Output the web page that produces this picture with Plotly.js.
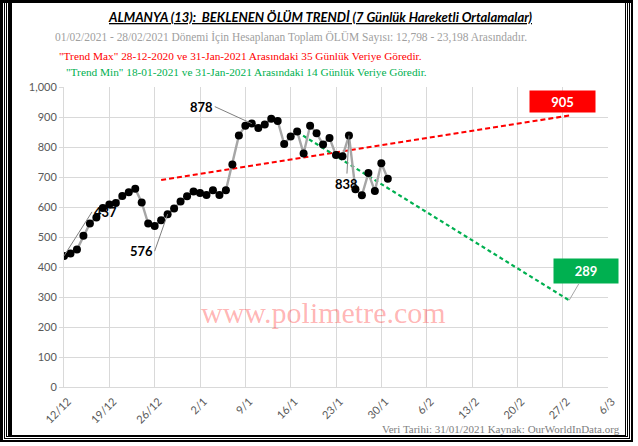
<!DOCTYPE html>
<html>
<head>
<meta charset="utf-8">
<script src="https://cdn.plot.ly/plotly-3.0.1.min.js"></script>
<style>
  html, body { margin: 0; padding: 0; background: #fff; }
  #wrap { position: relative; width: 638px; height: 446px; overflow: hidden; }
  #chart { position: absolute; left: 0; top: 0; width: 638px; height: 446px; }
  .frame { position: absolute; pointer-events: none; box-sizing: border-box; border-style: solid; border-color: #000; }
</style>
</head>
<body>
<div id="wrap">
  <div id="chart"></div>
  <div class="frame" style="left:0;top:-20px;width:633px;height:462px;border-width:0 2px 2px 3px;"></div>
  <div class="frame" style="left:4px;top:-20px;width:626px;height:459px;border-width:0 1px 1px 1px;"></div>
  <div class="frame" style="left:6px;top:-20px;width:622px;height:457px;border-width:0 1px 1px 1px;"></div>
  <div class="frame" style="left:8px;top:-20px;width:618px;height:456px;border-width:0 1px 1px 4px;"></div>
  <div class="frame" style="left:0;top:0;width:633px;height:3px;border-width:3px 0 0 0;"></div>
</div>
<script>
// ---- data ----
const dates = [
  "2020-12-12","2020-12-13","2020-12-14","2020-12-15","2020-12-16","2020-12-17","2020-12-18",
  "2020-12-19","2020-12-20","2020-12-21","2020-12-22","2020-12-23","2020-12-24","2020-12-25",
  "2020-12-26","2020-12-27","2020-12-28","2020-12-29","2020-12-30","2020-12-31","2021-01-01",
  "2021-01-02","2021-01-03","2021-01-04","2021-01-05","2021-01-06","2021-01-07","2021-01-08",
  "2021-01-09","2021-01-10","2021-01-11","2021-01-12","2021-01-13","2021-01-14","2021-01-15",
  "2021-01-16","2021-01-17","2021-01-18","2021-01-19","2021-01-20","2021-01-21","2021-01-22",
  "2021-01-23","2021-01-24","2021-01-25","2021-01-26","2021-01-27","2021-01-28","2021-01-29",
  "2021-01-30","2021-01-31"
];
const deaths = [
  437,445,458,504,545,565,597,
  608,613,637,649,661,615,545,
  537,556,576,595,618,636,652,
  647,640,656,640,656,742,838,
  871,878,863,875,894,887,810,
  835,852,778,871,846,808,830,
  773,769,838,659,639,713,653,
  746,694
];
const trendMaxDates = ["2020-12-27","2021-02-28"];
const trendMaxValues = [690, 905];
const trendMinDates = ["2021-01-17","2021-02-28"];
const trendMinValues = [850, 289];
const tickDates = ["2020-12-12","2020-12-19","2020-12-26","2021-01-02","2021-01-09","2021-01-16",
  "2021-01-23","2021-01-30","2021-02-06","2021-02-13","2021-02-20","2021-02-27","2021-03-06"];
const tickLabels = ["12/12","19/12","26/12","2/1","9/1","16/1","23/1","30/1","6/2","13/2","20/2","27/2","6/3"];
const yTicks = [0,100,200,300,400,500,600,700,800,900,1000];
const labelPoints = [
  {date: "2020-12-12", value: 437},
  {date: "2020-12-28", value: 576},
  {date: "2021-01-10", value: 878},
  {date: "2021-01-25", value: 838}
];
const titleText = "ALMANYA (13):  BEKLENEN ÖLÜM TRENDİ (7 Günlük Hareketli Ortalamalar)";
const subGray = "01/02/2021 - 28/02/2021 Dönemi İçin Hesaplanan Toplam ÖLÜM Sayısı: 12,798 - 23,198 Arasındadır.";
const subRed = "\"Trend Max\" 28-12-2020 ve 31-Jan-2021 Arasındaki 35 Günlük Veriye Göredir.";
const subGreen = "\"Trend Min\" 18-01-2021 ve 31-Jan-2021 Arasındaki 14 Günlük Veriye Göredir.";
const footer = "Veri Tarihi: 31/01/2021 Kaynak: OurWorldInData.org";
const watermark = "www.polimetre.com";

// ---- traces ----
const traces = [
  {
    x: trendMaxDates, y: trendMaxValues, type: "scatter", mode: "lines",
    line: {color: "#ff0000", width: 2.2, dash: "5px,3px"}, hoverinfo: "skip"
  },
  {
    x: trendMinDates, y: trendMinValues, type: "scatter", mode: "lines",
    line: {color: "#00b050", width: 2.2, dash: "4px,3px"}, hoverinfo: "skip"
  },
  {
    x: dates, y: deaths, type: "scatter", mode: "lines+markers",
    line: {color: "#a6a6a6", width: 2.4},
    marker: {color: "#000000", size: 8}
  }
];

const numFont = {family: "Lato, 'Open Sans', sans-serif", size: 13, color: "#000"};
const serif = "'Liberation Serif', 'Times New Roman', serif";
const annotations = [
  {x: labelPoints[0].date, y: labelPoints[0].value, text: "<b>" + labelPoints[0].value + "</b>",
   showarrow: true, arrowhead: 0, arrowwidth: 1, arrowcolor: "#7f7f7f", ax: 28, ay: -44, xanchor: "left", font: numFont},
  {x: labelPoints[1].date, y: labelPoints[1].value, text: "<b>" + labelPoints[1].value + "</b>",
   showarrow: true, arrowhead: 0, arrowwidth: 1, arrowcolor: "#7f7f7f", ax: -13, ay: 37, xanchor: "right", font: numFont},
  {x: labelPoints[2].date, y: labelPoints[2].value, text: "<b>" + labelPoints[2].value + "</b>",
   showarrow: true, arrowhead: 0, arrowwidth: 1, arrowcolor: "#7f7f7f", ax: -37, ay: -17, xanchor: "right", font: numFont},
  {x: labelPoints[3].date, y: labelPoints[3].value, text: "<b>" + labelPoints[3].value + "</b>",
   showarrow: true, arrowhead: 0, arrowwidth: 1, arrowcolor: "#7f7f7f", ax: -2, ay: 38, yanchor: "top", font: numFont},
  {x: trendMaxDates[1], y: trendMaxValues[1], text: "<b>" + trendMaxValues[1] + "</b>",
   showarrow: false, xshift: -7, yshift: 14, width: 65, height: 21, borderpad: 0, bgcolor: "#ff0000",
   font: {family: "Lato, sans-serif", size: 13, color: "#fff"}},
  {x: trendMinDates[1], y: trendMinValues[1], text: "<b>" + trendMinValues[1] + "</b>",
   showarrow: true, arrowhead: 0, arrowwidth: 1, arrowcolor: "#a6a6a6", ax: 17, ay: -29,
   width: 64, height: 24, borderpad: 0, bgcolor: "#00b050",
   font: {family: "Lato, sans-serif", size: 13, color: "#fff"}},
  // titles and notes (paper coordinates)
  {xref: "paper", yref: "paper", x: 0.4706, y: 1.2333, text: "<b><i><u>" + titleText + "</u></i></b>",
   showarrow: false, xanchor: "center", yanchor: "middle", font: {family: "Lato, sans-serif", size: 13, color: "#000"}},
  {xref: "paper", yref: "paper", x: -0.0202, y: 1.1666, text: subGray, showarrow: false, xanchor: "left", yanchor: "middle",
   font: {family: serif, size: 11.45, color: "#a0a0a0"}},
  {xref: "paper", yref: "paper", x: -0.0128, y: 1.1033, text: subRed, showarrow: false, xanchor: "left", yanchor: "middle",
   font: {family: serif, size: 11.3, color: "#ff0000"}},
  {xref: "paper", yref: "paper", x: 0.0, y: 1.05, text: subGreen, showarrow: false, xanchor: "left", yanchor: "middle",
   font: {family: serif, size: 11.3, color: "#00b050"}},
  {xref: "paper", yref: "paper", x: 1.0257, y: -0.14, text: footer, showarrow: false, xanchor: "right", yanchor: "middle",
   font: {family: serif, size: 11, color: "#808080"}},
  {xref: "paper", yref: "paper", x: 0.4779, y: 0.2467, text: watermark, showarrow: false, xanchor: "center", yanchor: "middle",
   font: {family: serif, size: 30, color: "rgba(255,0,0,0.3)"}}
];

const layout = {
  width: 638, height: 446,
  margin: {l: 64, r: 30, t: 87, b: 59},
  paper_bgcolor: "#ffffff", plot_bgcolor: "#ffffff",
  showlegend: false,
  xaxis: {
    type: "date", range: ["2020-12-12", "2021-03-06"],
    tickvals: tickDates, ticktext: tickLabels, tickangle: -45,
    ticklabelshift: 4, ticklabelstandoff: 3,
    showgrid: true, gridcolor: "#d9d9d9", gridwidth: 1,
    showline: true, linecolor: "#d9d9d9", linewidth: 1,
    zeroline: false, ticks: "",
    tickfont: {family: "Lato, sans-serif", size: 11, color: "#595959"}
  },
  yaxis: {
    range: [0, 1000], tickvals: yTicks, tickformat: ",d",
    showgrid: true, gridcolor: "#d9d9d9", gridwidth: 1,
    showline: true, linecolor: "#d9d9d9", linewidth: 1,
    zeroline: false, ticks: "outside", ticklen: 4, tickcolor: "#d9d9d9",
    tickfont: {family: "Lato, sans-serif", size: 11, color: "#595959"}
  },
  annotations: annotations
};

Plotly.newPlot("chart", traces, layout, {staticPlot: true, displayModeBar: false});
</script>
</body>
</html>
